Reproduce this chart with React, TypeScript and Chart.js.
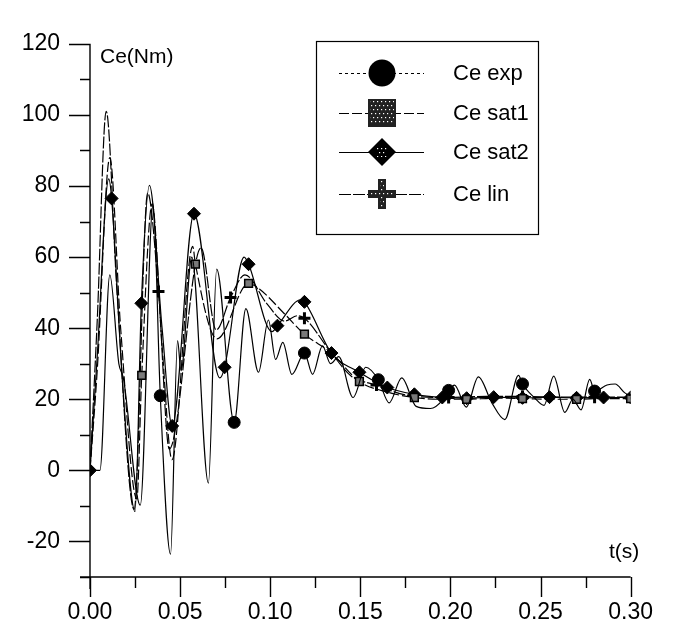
import React, { useEffect, useRef } from 'react';
import { Chart, registerables } from 'chart.js';

Chart.register(...registerables);

const FONT = "'Liberation Sans', Arial, Helvetica, sans-serif";

// ---- axis ticks ----
const xTickValues = [0, 0.05, 0.1, 0.15, 0.2, 0.25, 0.3];
const xTickLabels = ['0.00', '0.05', '0.10', '0.15', '0.20', '0.25', '0.30'];
const yTickValues = [-20, 0, 20, 40, 60, 80, 100, 120];
const yTickLabels = ['-20', '0', '20', '40', '60', '80', '100', '120'];

// ---- Ce exp ----
const expT = [0, 0.003, 0.0055, 0.011, 0.016, 0.0185, 0.0279, 0.035, 0.039, 0.0447, 0.0486, 0.0505, 0.0565, 0.0657, 0.0703, 0.08, 0.0865, 0.0935, 0.099, 0.103, 0.107, 0.112, 0.119, 0.1235, 0.129, 0.1335, 0.138, 0.146, 0.153, 0.16, 0.166, 0.173, 0.181, 0.1889, 0.196, 0.199, 0.2023, 0.2088, 0.2155, 0.223, 0.2302, 0.2378, 0.24, 0.2465, 0.252, 0.2573, 0.2635, 0.268, 0.2725, 0.2773, 0.28, 0.2869, 0.2914, 0.2968, 0.3];
const expV = [0, 0, 0, 55, 30, 26, -9.8, 75, 21, -23.6, 36.5, 28, 60, -3.6, 56.6, 13.5, 45.5, 27.6, 42.3, 31.2, 36, 27, 33, 27, 35, 30, 32, 20.5, 29, 25.5, 19, 26, 18, 17.4, 20, 22.5, 24, 17.8, 26.3, 19, 14.3, 26.7, 24.3, 20.5, 18.3, 26.5, 16.3, 20, 17, 25.6, 22.3, 24, 24.3, 21.8, 21];
const expMarkT = [0.039, 0.08, 0.119, 0.16, 0.199, 0.24, 0.28];

// ---- Ce sat1 ----
const sat1T = [0, 0.004, 0.011, 0.017, 0.026, 0.0287, 0.0345, 0.04, 0.0455, 0.057, 0.0585, 0.0705, 0.088, 0.094, 0.108, 0.119, 0.134, 0.1495, 0.165, 0.18, 0.195, 0.209, 0.225, 0.24, 0.255, 0.27, 0.285, 0.3];
const sat1V = [0, 28, 88, 40, -8, 26.7, 75, 35, 3, 63, 58, 37, 52.6, 51, 44, 38.3, 33, 25, 22, 20.5, 20, 20, 20.3, 20.2, 20, 20, 20.2, 20.2];
const sat1MarkT = [0.0287, 0.0585, 0.088, 0.119, 0.1495, 0.18, 0.209, 0.24, 0.27, 0.3];

// ---- Ce sat2 ----
const sat2T = [0, 0.004, 0.0104, 0.012, 0.018, 0.025, 0.0285, 0.033, 0.04, 0.0456, 0.0577, 0.072, 0.0747, 0.0855, 0.088, 0.101, 0.104, 0.117, 0.119, 0.134, 0.1495, 0.165, 0.18, 0.1955, 0.209, 0.224, 0.24, 0.255, 0.27, 0.285, 0.3];
const sat2V = [0, 32, 82, 76.5, 25, -11.6, 47, 80.2, 40, 12.5, 72.2, 26, 29, 60, 58, 39, 40.7, 48, 47.4, 33, 27.6, 23.3, 21.4, 20.5, 20.3, 20.6, 20.4, 20.6, 20.4, 20.5, 20.5];
const sat2MarkT = [0, 0.012, 0.0285, 0.0456, 0.0577, 0.0747, 0.088, 0.104, 0.119, 0.134, 0.1495, 0.165, 0.18, 0.1955, 0.209, 0.224, 0.24, 0.255, 0.27, 0.285, 0.3];

// ---- Ce lin ----
const linT = [0, 0.004, 0.009, 0.015, 0.0245, 0.032, 0.038, 0.044, 0.0616, 0.07, 0.078, 0.086, 0.098, 0.108, 0.115, 0.119, 0.134, 0.145, 0.159, 0.175, 0.199, 0.22, 0.24, 0.26, 0.28, 0.3];
const linV = [0, 42, 101, 50, -11, 78, 50.3, 6, 62.6, 39.5, 48.6, 55, 47, 42, 43.5, 42.8, 33, 26.5, 24, 21.2, 20.5, 20.8, 20.8, 20.6, 20.6, 20.6];
const linMarkT = [0.038, 0.078, 0.119, 0.159, 0.199, 0.24, 0.28];

const seriesNames = ['Ce exp', 'Ce sat1', 'Ce sat2', 'Ce lin'];

function pts(t: number[], v: number[]) {
  return t.map((x, i) => ({ x, y: v[i] }));
}

function stipple(ctx: CanvasRenderingContext2D, x0: number, y0: number, w: number, h: number, clip: () => void) {
  ctx.save();
  ctx.beginPath();
  clip();
  ctx.clip();
  ctx.fillStyle = '#fff';
  for (let yy = y0 + 2; yy < y0 + h; yy += 4) {
    for (let xx = x0 + ((yy - y0) % 8 === 2 ? 1 : 3); xx < x0 + w; xx += 4) {
      ctx.fillRect(xx, yy, 1.2, 1.2);
    }
  }
  ctx.restore();
}

const decorPlugin = {
  id: 'decor',
  afterDraw(chart: any) {
    const ctx: CanvasRenderingContext2D = chart.ctx;
    const ca = chart.chartArea;
    const xs = chart.scales.x;
    const ys = chart.scales.y;
    ctx.save();
    ctx.strokeStyle = '#000';
    ctx.lineWidth = 1.4;
    ctx.beginPath();
    ctx.moveTo(ca.left, ca.top);
    ctx.lineTo(ca.left, ca.bottom + 12);
    ctx.moveTo(ca.left - 10, ca.bottom);
    ctx.lineTo(ca.right, ca.bottom);
    for (let v = -30; v <= 120; v += 10) {
      const y = Math.round(ys.getPixelForValue(v)) + 0.5;
      const major = v % 20 === 0;
      ctx.moveTo(ca.left - (major ? 21 : 10), y);
      ctx.lineTo(ca.left, y);
    }
    for (let i = 0; i <= 12; i++) {
      const x = Math.round(xs.getPixelForValue(i * 0.025)) + 0.5;
      const major = i % 2 === 0;
      ctx.moveTo(x, ca.bottom);
      ctx.lineTo(x, ca.bottom + (major ? 20 : 11));
    }
    ctx.stroke();

    // axis titles
    ctx.fillStyle = '#000';
    ctx.font = `21px ${FONT}`;
    ctx.textBaseline = 'middle';
    ctx.textAlign = 'left';
    ctx.fillText('Ce(Nm)', ca.left + 10, ca.top + 13);
    ctx.fillText('t(s)', 609, 552);

    // legend
    const bx = 316, by = 41, bw = 222, bh = 193;
    ctx.lineWidth = 1.2;
    ctx.strokeRect(bx + 0.5, by + 0.5, bw, bh);
    const rows = [73, 113, 152, 194];
    const dashes = [[3, 3], [10, 3], [], [12, 2]];
    const mx = 382;
    rows.forEach((ry, i) => {
      ctx.save();
      ctx.lineWidth = 1.1;
      ctx.setLineDash(dashes[i]);
      ctx.beginPath();
      ctx.moveTo(339, ry + 0.5);
      ctx.lineTo(424, ry + 0.5);
      ctx.stroke();
      ctx.restore();
      ctx.fillStyle = '#000';
      if (i === 0) {
        ctx.beginPath();
        ctx.arc(mx, ry, 13.5, 0, Math.PI * 2);
        ctx.fill();
      } else if (i === 1) {
        ctx.fillStyle = '#222';
        ctx.fillRect(mx - 14, ry - 14, 28, 28);
        stipple(ctx, mx - 14, ry - 14, 28, 28, () => ctx.rect(mx - 12, ry - 12, 24, 24));
      } else if (i === 2) {
        ctx.beginPath();
        ctx.moveTo(mx - 14, ry);
        ctx.lineTo(mx, ry - 14);
        ctx.lineTo(mx + 14, ry);
        ctx.lineTo(mx, ry + 14);
        ctx.closePath();
        ctx.fill();
        stipple(ctx, mx - 6, ry - 6, 12, 12, () => ctx.rect(mx - 5, ry - 5, 10, 10));
      } else {
        ctx.fillStyle = '#222';
        ctx.fillRect(mx - 4, ry - 15, 8, 30);
        ctx.fillRect(mx - 14, ry - 4, 28, 8);
        stipple(ctx, mx - 14, ry - 15, 28, 30, () => {
          ctx.rect(mx - 2, ry - 13, 4, 26);
          ctx.rect(mx - 12, ry - 2, 24, 4);
        });
      }
      ctx.fillStyle = '#000';
      ctx.font = `22px ${FONT}`;
      ctx.textAlign = 'left';
      ctx.textBaseline = 'middle';
      ctx.fillText(seriesNames[i], 453, ry + 1);
    });
    ctx.restore();
  },
};

function markRadius(t: number[], marks: number[], r: number) {
  const flags = t.map((x) => marks.includes(x));
  return (c: any) => (flags[c.dataIndex] ? r : 0);
}

export default function App() {
  const ref = useRef<HTMLCanvasElement | null>(null);
  useEffect(() => {
    document.body.style.margin = '0';
    const canvas = ref.current;
    if (!canvas) return;
    const line = { borderColor: '#000', borderWidth: 1.2, cubicInterpolationMode: 'monotone' as const, fill: false, pointHoverRadius: 0 };
    const chart = new Chart(canvas, {
      type: 'line',
      data: {
        datasets: [
          {
            label: seriesNames[0], data: pts(expT, expV), ...line,
            pointStyle: 'circle', pointRadius: markRadius(expT, expMarkT, 6), pointBackgroundColor: '#000', pointBorderColor: '#000', pointBorderWidth: 1,
          },
          {
            label: seriesNames[1], data: pts(sat1T, sat1V), ...line, borderDash: [10, 3],
            pointStyle: 'rect', pointRadius: markRadius(sat1T, sat1MarkT, 5.5), pointBackgroundColor: '#7a7a7a', pointBorderColor: '#000', pointBorderWidth: 1.5,
          },
          {
            label: seriesNames[2], data: pts(sat2T, sat2V), ...line,
            pointStyle: 'rectRot', pointRadius: markRadius(sat2T, sat2MarkT, 6.5), pointBackgroundColor: '#000', pointBorderColor: '#000', pointBorderWidth: 1,
          },
          {
            label: seriesNames[3], data: pts(linT, linV), ...line, borderDash: [12, 2],
            pointStyle: 'cross', pointRadius: markRadius(linT, linMarkT, 6), pointBackgroundColor: '#000', pointBorderColor: '#000', pointBorderWidth: 3,
          },
        ],
      },
      options: {
        responsive: false,
        animation: false,
        devicePixelRatio: 1,
        layout: { padding: { top: 15, right: 29, bottom: 0, left: 0 } },
        plugins: { legend: { display: false }, tooltip: { enabled: false } },
        events: [],
        scales: {
          x: {
            type: 'linear',
            min: 0,
            max: 0.3,
            grid: { display: false, drawTicks: false },
            border: { display: false },
            afterFit: (s: any) => { s.height = 54; },
            afterBuildTicks: (s: any) => { s.ticks = xTickValues.map((v) => ({ value: v })); },
            ticks: {
              padding: 22,
              color: '#000',
              font: { family: FONT, size: 23 },
              maxRotation: 0,
              autoSkip: false,
              callback: (_v: any, i: number) => xTickLabels[i],
            },
          },
          y: {
            type: 'linear',
            min: -30,
            max: 120,
            grid: { display: false, drawTicks: false },
            border: { display: false },
            afterFit: (s: any) => { s.width = 90; },
            afterBuildTicks: (s: any) => { s.ticks = yTickValues.map((v) => ({ value: v })); },
            ticks: {
              padding: 30,
              color: '#000',
              font: { family: FONT, size: 23 },
              autoSkip: false,
              callback: (_v: any, i: number) => yTickLabels[i],
            },
          },
        },
      },
      plugins: [decorPlugin],
    });
    return () => chart.destroy();
  }, []);
  return <canvas ref={ref} width={675} height={631} style={{ display: 'block' }} />;
}
